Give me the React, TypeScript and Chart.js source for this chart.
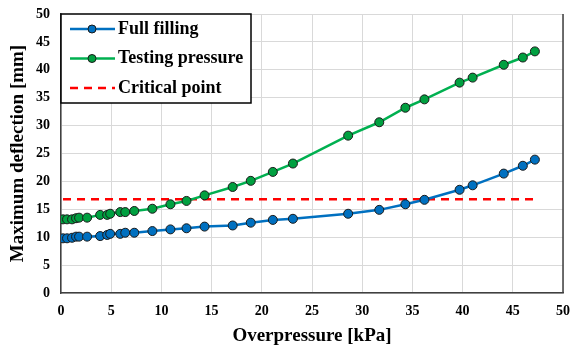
import React, { useEffect, useRef } from "react";
import { Chart, registerables } from "chart.js";

Chart.register(...registerables);

const pressure = [0.2, 0.6, 1.1, 1.5, 1.8, 2.6, 3.9, 4.6, 4.9, 5.9, 6.4, 7.3, 9.1, 10.9, 12.5, 14.3, 17.1, 18.9, 21.1, 23.1, 28.6, 31.7, 34.3, 36.2, 39.7, 41.0, 44.1, 46.0, 47.2];
const fullFilling = [9.8, 9.8, 9.9, 10.1, 10.1, 10.1, 10.2, 10.4, 10.6, 10.6, 10.8, 10.8, 11.1, 11.4, 11.6, 11.9, 12.1, 12.6, 13.1, 13.3, 14.2, 14.9, 15.9, 16.7, 18.5, 19.3, 21.4, 22.8, 23.9];
const testingPressure = [13.2, 13.2, 13.2, 13.4, 13.5, 13.5, 14.0, 14.0, 14.2, 14.5, 14.5, 14.7, 15.1, 15.9, 16.5, 17.5, 19.0, 20.1, 21.7, 23.2, 28.2, 30.6, 33.2, 34.7, 37.7, 38.6, 40.9, 42.2, 43.3];
const criticalX = [0.2, 47.2];
const criticalY = [16.8, 16.8];
const seriesNames = ["Full filling", "Testing pressure", "Critical point"];
const xTitle = "Overpressure [kPa]";
const yTitle = "Maximum deflection [mm]";

const FONT = "'Liberation Serif', 'Times New Roman', serif";
const BLUE = "#0070C0";
const GREEN = "#00B050";
const RED = "#FF0000";

const frameAndLegend = {
  id: "frameAndLegend",
  afterDatasetsDraw(chart: any) {
    const { ctx, chartArea } = chart;
    ctx.save();
    ctx.strokeStyle = "#404040";
    ctx.lineWidth = 1.5;
    ctx.beginPath();
    ctx.moveTo(chartArea.right, chartArea.top);
    ctx.lineTo(chartArea.right, chartArea.bottom);
    ctx.stroke();

    const x0 = chartArea.left;
    const y0 = chartArea.top;
    const w = 190;
    const h = 89;
    ctx.fillStyle = "#ffffff";
    ctx.fillRect(x0, y0, w, h);
    ctx.strokeStyle = "#000000";
    ctx.lineWidth = 1.5;
    ctx.strokeRect(x0, y0, w, h);

    const ds = chart.data.datasets;
    ds.forEach((d: any, i: number) => {
      const y = y0 + 15 + i * 29.5;
      ctx.save();
      ctx.strokeStyle = d.borderColor;
      ctx.lineWidth = d.borderWidth;
      if (d.borderDash && d.borderDash.length) ctx.setLineDash(d.borderDash);
      ctx.beginPath();
      ctx.moveTo(x0 + 9, y);
      ctx.lineTo(x0 + 54, y);
      ctx.stroke();
      ctx.restore();
      if (d.pointRadius > 0) {
        ctx.beginPath();
        ctx.arc(x0 + 31, y, 4, 0, Math.PI * 2);
        ctx.fillStyle = d.pointBackgroundColor;
        ctx.fill();
        ctx.strokeStyle = d.pointBorderColor;
        ctx.lineWidth = 1;
        ctx.stroke();
      }
      ctx.fillStyle = "#000";
      ctx.font = `bold 18px ${FONT}`;
      ctx.textBaseline = "middle";
      ctx.textAlign = "left";
      ctx.fillText(d.label, x0 + 57, y);
    });
    ctx.restore();
  },
};

export default function App() {
  const ref = useRef<HTMLCanvasElement>(null);
  useEffect(() => {
    if (!ref.current) return;
    const mk = (ys: number[], xs: number[]) => xs.map((x, i) => ({ x, y: ys[i] }));
    const chart = new Chart(ref.current, {
      type: "scatter",
      data: {
        datasets: [
          {
            label: seriesNames[0],
            data: mk(fullFilling, pressure),
            showLine: true,
            borderColor: BLUE,
            borderWidth: 2.5,
            pointRadius: 4.5,
            pointBackgroundColor: BLUE,
            pointBorderColor: "#1a1a1a",
            pointBorderWidth: 1,
            order: 1,
          },
          {
            label: seriesNames[1],
            data: mk(testingPressure, pressure),
            showLine: true,
            borderColor: GREEN,
            borderWidth: 2.5,
            pointRadius: 4.5,
            pointBackgroundColor: "#00A040",
            pointBorderColor: "#1a1a1a",
            pointBorderWidth: 1,
            order: 2,
          },
          {
            label: seriesNames[2],
            data: mk(criticalY, criticalX),
            showLine: true,
            borderColor: RED,
            borderWidth: 2.5,
            borderDash: [8, 6],
            pointRadius: 0,
            order: 3,
          },
        ],
      },
      options: {
        animation: false,
        responsive: false,
        maintainAspectRatio: false,
        layout: { padding: { top: 14, right: 10, left: 0, bottom: 0 } },
        plugins: { legend: { display: false }, tooltip: { enabled: false } },
        scales: {
          x: {
            type: "linear",
            min: 0,
            max: 50,
            ticks: { stepSize: 5, color: "#000", padding: 10, font: { family: FONT, size: 14, weight: "bold" } },
            grid: { color: "#d9d9d9", drawTicks: false },
            border: { color: "#404040", width: 1.5 },
            title: { display: true, text: xTitle, color: "#000", padding: { top: 0, bottom: 0 }, font: { family: FONT, size: 19, weight: "bold" } },
            afterFit: (s: any) => { s.height = 54; s.paddingLeft = 0; s.paddingRight = 0; },
          },
          y: {
            type: "linear",
            min: 0,
            max: 50,
            ticks: { stepSize: 5, color: "#000", padding: 11, font: { family: FONT, size: 14, weight: "bold" } },
            grid: { color: "#d9d9d9", drawTicks: false },
            border: { color: "#404040", width: 1.5 },
            title: { display: true, text: yTitle, color: "#000", padding: { top: 7, bottom: 0 }, font: { family: FONT, size: 19, weight: "bold" } },
            afterFit: (s: any) => { s.width = 61; s.paddingTop = 0; s.paddingBottom = 0; },
          },
        },
      },
      plugins: [frameAndLegend],
    });
    return () => chart.destroy();
  }, []);
  return (
    <div style={{ position: "fixed", left: 0, top: 0, width: 573, height: 347, background: "#fff" }}>
      <canvas ref={ref} width={573} height={347} style={{ display: "block" }} />
    </div>
  );
}
